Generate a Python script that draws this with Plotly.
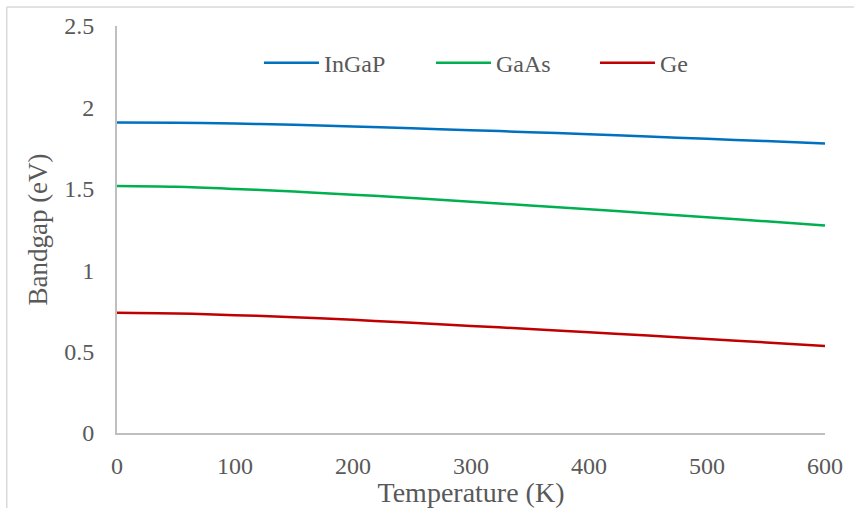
import plotly.graph_objects as go

temperature = [0, 50, 100, 150, 200, 250, 300, 350, 400, 450, 500, 550, 600]
ingap = [1.908, 1.906, 1.901, 1.893, 1.883, 1.872, 1.860, 1.848, 1.835, 1.821, 1.807, 1.793, 1.778]
gaas = [1.517, 1.512, 1.499, 1.483, 1.464, 1.443, 1.420, 1.398, 1.374, 1.350, 1.325, 1.300, 1.275]
ge = [0.738, 0.734, 0.724, 0.711, 0.695, 0.677, 0.658, 0.639, 0.619, 0.599, 0.577, 0.556, 0.534]

series = [("InGaP", ingap, "#0070C0"), ("GaAs", gaas, "#00B050"), ("Ge", ge, "#C00000")]
legend_x = [0.2005, 0.4435, 0.6751]

FONT = "Liberation Serif"
GREY_TXT = "#595959"
AXIS = "#BFBFBF"

fig = go.Figure()
for i, (name, vals, col) in enumerate(series):
    fig.add_trace(go.Scatter(x=temperature, y=vals, name=name, mode="lines",
                             legend="legend" if i == 0 else f"legend{i+1}",
                             line=dict(color=col, width=2.5, shape="spline")))

leg_common = dict(orientation="h", y=0.909, yanchor="middle", xanchor="left",
                  font=dict(size=24, color=GREY_TXT), itemwidth=55, bgcolor="rgba(0,0,0,0)")

fig.update_layout(
    width=854, height=508,
    margin=dict(l=117, r=29, t=26, b=75, autoexpand=False),
    paper_bgcolor="white", plot_bgcolor="white",
    font=dict(family=FONT, size=24, color=GREY_TXT),
    showlegend=True,
    legend=dict(x=legend_x[0], **leg_common),
    legend2=dict(x=legend_x[1], **leg_common),
    legend3=dict(x=legend_x[2], **leg_common),
    xaxis=dict(range=[0, 600], tickvals=[0, 100, 200, 300, 400, 500, 600],
               showgrid=False, zeroline=False, showline=True, linecolor=AXIS, linewidth=2,
               ticks="outside", ticklen=10, tickcolor="rgba(0,0,0,0)",
               tickfont=dict(size=24, color=GREY_TXT),
               title=dict(text="Temperature (K)", font=dict(size=28, color=GREY_TXT), standoff=12)),
    yaxis=dict(range=[0, 2.5], tickvals=[0, 0.5, 1, 1.5, 2, 2.5], ticktext=["0", "0.5", "1", "1.5", "2", "2.5"],
               showgrid=False, zeroline=False, showline=True, linecolor=AXIS, linewidth=2,
               ticks="outside", ticklen=16, tickcolor="rgba(0,0,0,0)",
               tickfont=dict(size=24, color=GREY_TXT),
               title=dict(text="Bandgap (eV)", font=dict(size=27, color=GREY_TXT), standoff=9)),
    shapes=[
        dict(type="line", xref="paper", yref="paper", x0=-0.1557, x1=1.2, y0=1.0465, y1=1.0465,
             line=dict(color="#D9D9D9", width=1.5)),
        dict(type="line", xref="paper", yref="paper", x0=-0.1557, x1=-0.1557, y0=1.0465, y1=-0.3,
             line=dict(color="#D9D9D9", width=1.5)),
    ],
)

fig.write_html("out.html")
